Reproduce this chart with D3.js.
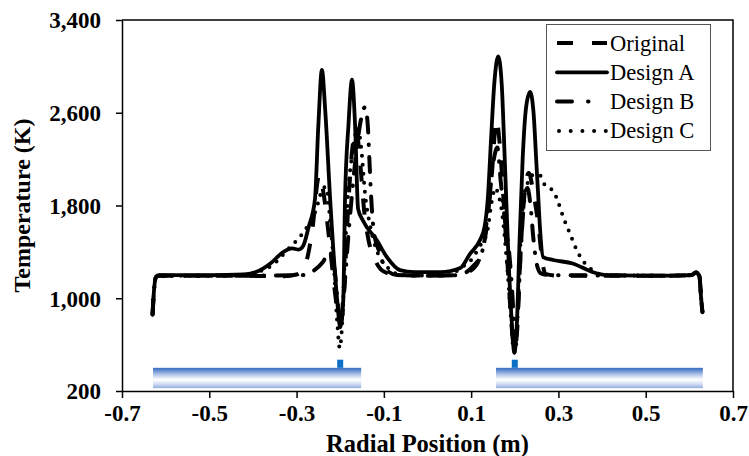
<!DOCTYPE html>
<html>
<head>
<meta charset="utf-8">
<script src="https://cdn.jsdelivr.net/npm/d3@7"></script>
<style>
  html, body { margin: 0; padding: 0; background: #fff; }
  svg { display: block; }
  text { font-family: "Times New Roman", "Liberation Serif", Tinos, Times, serif; fill: #000; }
</style>
</head>
<body>
<svg id="chart" width="749" height="456"></svg>
<script>
// Temperature profiles across the radial position, one [r (m), T (K)] list per design
const originalProfile = [
  [-0.630, 860], [-0.627, 1050], [-0.622, 1185], [-0.615, 1195], [-0.45, 1195],
  [-0.33, 1190], [-0.30, 1205], [-0.28, 1290], [-0.265, 1560], [-0.248, 2060],
  [-0.238, 1900], [-0.225, 1500], [-0.212, 1050], [-0.203, 820], [-0.198, 800],
  [-0.192, 1000], [-0.183, 1700], [-0.172, 2300], [-0.163, 2450], [-0.155, 2200],
  [-0.145, 1750], [-0.135, 1500], [-0.12, 1330], [-0.10, 1230], [-0.07, 1200],
  [0.0, 1195], [0.07, 1200], [0.10, 1240], [0.12, 1350], [0.135, 1600],
  [0.148, 2100], [0.158, 2540], [0.165, 2350], [0.175, 1800], [0.185, 1200],
  [0.193, 750], [0.199, 560], [0.205, 700], [0.212, 1300], [0.22, 1800],
  [0.232, 2080], [0.243, 1900], [0.255, 1600], [0.262, 1350], [0.27, 1210],
  [0.30, 1195], [0.55, 1195], [0.605, 1200], [0.615, 1220], [0.623, 1190],
  [0.627, 1000], [0.630, 880]
];
const designAProfile = [
  [-0.630, 860], [-0.627, 1050], [-0.622, 1185], [-0.615, 1200], [-0.50, 1200],
  [-0.42, 1205], [-0.39, 1230], [-0.36, 1300], [-0.33, 1400], [-0.31, 1430],
  [-0.295, 1420], [-0.285, 1450], [-0.272, 1620], [-0.258, 1850], [-0.250, 2500],
  [-0.242, 2970], [-0.234, 2600], [-0.223, 1850], [-0.207, 985], [-0.200, 750],
  [-0.193, 985], [-0.189, 1850], [-0.181, 2500], [-0.173, 2885], [-0.166, 2500],
  [-0.159, 1770], [-0.148, 1670], [-0.116, 1500], [-0.093, 1355], [-0.063, 1243],
  [-0.03, 1225], [0.03, 1225], [0.075, 1260], [0.097, 1380], [0.12, 1500],
  [0.131, 1620], [0.138, 1850], [0.146, 2400], [0.153, 2850], [0.162, 3085],
  [0.170, 2850], [0.177, 2200], [0.185, 1400], [0.193, 800], [0.199, 530],
  [0.205, 800], [0.211, 1500], [0.218, 2200], [0.226, 2650], [0.235, 2780],
  [0.243, 2600], [0.249, 2200], [0.253, 1930], [0.258, 1590], [0.265, 1355],
  [0.288, 1330], [0.333, 1300], [0.379, 1225], [0.411, 1200], [0.55, 1195],
  [0.605, 1200], [0.615, 1225], [0.623, 1190], [0.627, 1000], [0.630, 880]
];
const designBProfile = [
  [-0.630, 860], [-0.627, 1050], [-0.622, 1185], [-0.615, 1195], [-0.40, 1195],
  [-0.28, 1200], [-0.26, 1240], [-0.24, 1310], [-0.225, 1400], [-0.213, 1250],
  [-0.205, 950], [-0.200, 830], [-0.193, 1000], [-0.18, 1600], [-0.165, 2200],
  [-0.152, 2550], [-0.143, 2650], [-0.137, 2500], [-0.132, 2100], [-0.128, 1800],
  [-0.122, 1550], [-0.11, 1400], [-0.095, 1250], [-0.07, 1200], [0.0, 1195],
  [0.07, 1200], [0.10, 1260], [0.125, 1400], [0.14, 1800], [0.152, 2200],
  [0.16, 2300], [0.168, 2000], [0.178, 1650], [0.187, 1400], [0.195, 1000],
  [0.200, 650], [0.207, 900], [0.215, 1500], [0.222, 1850], [0.229, 1950],
  [0.236, 1800], [0.243, 1500], [0.25, 1300], [0.26, 1215], [0.28, 1200],
  [0.55, 1195], [0.605, 1200], [0.615, 1220], [0.623, 1190], [0.627, 1000],
  [0.630, 880]
];
const designCProfile = [
  [-0.630, 860], [-0.627, 1050], [-0.622, 1185], [-0.615, 1195], [-0.45, 1195],
  [-0.40, 1215], [-0.37, 1255], [-0.354, 1290], [-0.33, 1380], [-0.31, 1460],
  [-0.292, 1530], [-0.275, 1620], [-0.262, 1700], [-0.250, 1830], [-0.240, 1950],
  [-0.232, 1960], [-0.225, 1750], [-0.215, 1300], [-0.207, 800], [-0.201, 570],
  [-0.196, 750], [-0.19, 1300], [-0.182, 1900], [-0.172, 2250], [-0.160, 2470],
  [-0.152, 2300], [-0.143, 1900], [-0.13, 1600], [-0.115, 1400], [-0.095, 1280],
  [-0.07, 1210], [-0.03, 1195], [0.05, 1200], [0.075, 1260], [0.10, 1330],
  [0.12, 1450], [0.136, 1560], [0.148, 1850], [0.155, 1950], [0.162, 1900],
  [0.172, 1700], [0.182, 1300], [0.19, 900], [0.197, 560], [0.201, 535],
  [0.206, 800], [0.212, 1400], [0.22, 1850], [0.23, 2000], [0.245, 2070],
  [0.258, 2060], [0.269, 1976], [0.288, 1925], [0.297, 1855], [0.311, 1700],
  [0.327, 1553], [0.343, 1406], [0.354, 1337], [0.368, 1270], [0.379, 1243],
  [0.40, 1200], [0.55, 1195], [0.605, 1200], [0.615, 1220], [0.623, 1190],
  [0.627, 1000], [0.630, 880]
];

const seriesNames = ["Original", "Design A", "Design B", "Design C"];
const xTicks = [-0.7, -0.5, -0.3, -0.1, 0.1, 0.3, 0.5, 0.7];
const yTicks = [200, 1000, 1800, 2600, 3400];
// pipe walls along the radius and the two injector positions
const pipeSpans = [[-0.629, -0.152], [0.157, 0.631]];
const pipeBand = [400, 225];
const injectorPositions = [-0.2, 0.2];
const injectorBand = [470, 400];

const serif = '"Times New Roman", "Liberation Serif", Tinos, Times, serif';
const svg = d3.select("#chart");
const plotL = 122, plotR = 733, plotT = 20, plotB = 391;

const x = d3.scaleLinear().domain([-0.7, 0.7]).range([plotL, plotR]);
const y = d3.scaleLinear().domain([200, 3400]).range([plotB, plotT]);

// gradient used for the pipe walls
const defs = svg.append("defs");
const grad = defs.append("linearGradient").attr("id", "pipeGrad")
  .attr("x1", 0).attr("y1", 0).attr("x2", 0).attr("y2", 1);
[[0, "#3b6bc0"], [0.12, "#5f89d0"], [0.35, "#b9cbec"], [0.58, "#ffffff"],
 [0.8, "#d3def3"], [1, "#93acdf"]].forEach(([o, c]) =>
  grad.append("stop").attr("offset", o).attr("stop-color", c));

svg.append("g").selectAll("rect").data(pipeSpans).join("rect")
  .attr("x", d => x(d[0])).attr("width", d => x(d[1]) - x(d[0]))
  .attr("y", y(pipeBand[0])).attr("height", y(pipeBand[1]) - y(pipeBand[0]))
  .attr("fill", "url(#pipeGrad)");

svg.append("g").selectAll("rect").data(injectorPositions).join("rect")
  .attr("x", d => x(d) - 3).attr("width", 6)
  .attr("y", y(injectorBand[0])).attr("height", y(injectorBand[1]) - y(injectorBand[0]))
  .attr("fill", "#0b6fc6");

// plot frame (top and right sides)
svg.append("path")
  .attr("d", `M${plotL},${plotT}H${plotR}V${plotB}`)
  .attr("fill", "none").attr("stroke", "#000").attr("stroke-width", 1.5);

// axes
const fmtX = d => d3.format(".1f")(d).replace("\u2212", "-");
const yAxis = svg.append("g").attr("transform", `translate(${plotL},0)`)
  .call(d3.axisLeft(y).tickValues(yTicks).tickFormat(d3.format(",")).tickSize(6).tickSizeOuter(0));
const xAxis = svg.append("g").attr("transform", `translate(0,${plotB})`)
  .call(d3.axisBottom(x).tickValues(xTicks).tickFormat(fmtX).tickSize(7).tickSizeOuter(0));
[xAxis, yAxis].forEach(g => {
  g.attr("font-family", null);
  g.select(".domain").attr("stroke", "#000").attr("stroke-width", 1.5);
  g.selectAll(".tick line").attr("stroke", "#000").attr("stroke-width", 1.5);
  g.selectAll(".tick text")
    .style("font-family", serif)
    .style("font-weight", "bold").style("font-size", "23px").attr("fill", "#000");
});
yAxis.selectAll(".tick text").attr("x", -21).attr("dy", "0.34em");
xAxis.selectAll(".tick text").attr("y", 13).attr("dy", "0.75em");

svg.append("text").attr("x", (plotL + plotR) / 2).attr("y", 452)
  .attr("text-anchor", "middle").style("font-family", serif)
  .style("font-weight", "bold").style("font-size", "24.5px")
  .text("Radial Position (m)");
svg.append("text").attr("transform", `translate(30,${(plotT + plotB) / 2}) rotate(-90)`)
  .attr("text-anchor", "middle").style("font-family", serif)
  .style("font-weight", "bold").style("font-size", "24px")
  .text("Temperature (K)");

// line styles per design
const styles = [
  { dash: "16,17", cap: "butt", width: 4 },
  { dash: null, cap: "round", width: 3.8 },
  { dash: "15,12,0.5,12", cap: "round", width: 4 },
  { dash: "0,9", cap: "round", width: 4 }
];
const profiles = [originalProfile, designAProfile, designBProfile, designCProfile];

const line = d3.line().x(d => x(d[0])).y(d => y(d[1])).curve(d3.curveMonotoneX);
const drawOrder = [0, 2, 3, 1];
svg.append("g").selectAll("path").data(drawOrder).join("path")
  .attr("d", i => line(profiles[i]))
  .attr("fill", "none").attr("stroke", "#000")
  .attr("stroke-width", i => styles[i].width)
  .attr("stroke-dasharray", i => styles[i].dash)
  .attr("stroke-linecap", i => styles[i].cap)
  .attr("stroke-linejoin", "round");

// legend
const legend = svg.append("g");
legend.append("rect").attr("x", 546.5).attr("y", 24.5).attr("width", 164).attr("height", 126)
  .attr("fill", "#fff").attr("stroke", "#555").attr("stroke-width", 1);
seriesNames.forEach((name, i) => {
  const cy = 43 + i * 29.3;
  legend.append("line").attr("x1", i === 3 ? 559 : 557).attr("x2", 607)
    .attr("y1", cy).attr("y2", cy)
    .attr("stroke", "#000").attr("stroke-width", styles[i].width)
    .attr("stroke-dasharray", i === 0 ? "16,19" : i === 2 ? "15,16,0.5,30" : i === 3 ? "0,11.7" : null)
    .attr("stroke-linecap", styles[i].cap);
  legend.append("text").attr("x", 610).attr("y", cy + 7.5)
    .style("font-family", serif).style("font-size", "22.5px").text(name);
});
</script>
</body>
</html>
